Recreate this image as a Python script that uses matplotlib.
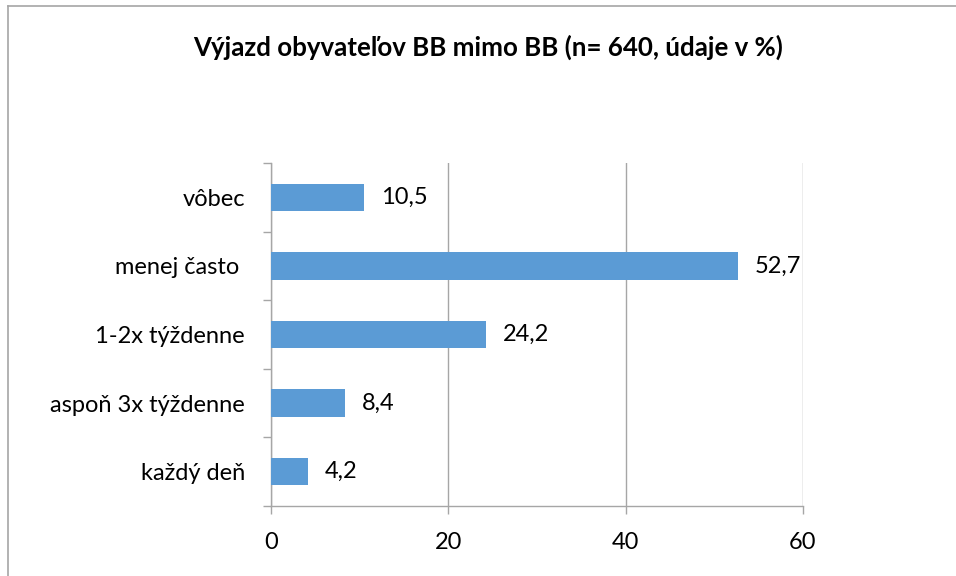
import matplotlib
matplotlib.use("Agg")
import matplotlib.pyplot as plt
from matplotlib.lines import Line2D

plt.rcParams['font.family'] = ['Lato', 'DejaVu Sans']

categories = ["každý deň", "aspoň 3x týždenne", "1-2x týždenne", "menej často ", "vôbec"]
values = [4.2, 8.4, 24.2, 52.7, 10.5]
value_labels = ["4,2", "8,4", "24,2", "52,7", "10,5"]
x_ticks = [0, 20, 40, 60]

title = "Výjazd obyvateľov BB mimo BB (n= 640, údaje v %)"

bar_color = "#5B9BD5"
grid_color = "#A6A6A6"

fig = plt.figure(figsize=(9.56, 5.76), dpi=100)
ax = fig.add_axes([271 / 956, 1 - 506 / 576, (803 - 271) / 956, (506 - 163) / 576])

y = list(range(len(categories)))
ax.barh(y, values, height=0.4, color=bar_color, zorder=3)

for yi, v, lab in zip(y, values, value_labels):
    ax.text(v + 1.9, yi, lab, va='center', ha='left', fontsize=17, color='black')

ax.set_xlim(0, 60)
ax.set_ylim(-0.5, len(categories) - 0.5)
ax.set_xticks(x_ticks)
ax.set_xticklabels([str(t) for t in x_ticks], fontsize=17)

# category labels centred, ticks at category boundaries
ax.set_yticks(y)
ax.set_yticklabels(categories, fontsize=17)
ax.tick_params(axis='y', length=0, pad=18.7)
ax.set_yticks([i - 0.5 for i in range(len(categories) + 1)], minor=True)
ax.tick_params(axis='y', which='minor', length=6, color=grid_color, width=1)
ax.tick_params(axis='x', length=6, color=grid_color, width=1, pad=13)

ax.grid(axis='x', color=grid_color, linewidth=1, zorder=0)
for s in ['top', 'right']:
    ax.spines[s].set_visible(False)
for s in ['left', 'bottom']:
    ax.spines[s].set_color(grid_color)
    ax.spines[s].set_linewidth(1)

fig.text(488 / 956, 1 - 47 / 576, title, ha='center', va='center', fontsize=18.6, fontweight='bold')

# chart area border (top and left edges visible)
fig.add_artist(Line2D([8 / 956, 8 / 956], [0, 1 - 6 / 576], transform=fig.transFigure, color='#A6A6A6', lw=1.2))
fig.add_artist(Line2D([8 / 956, 1], [1 - 6 / 576, 1 - 6 / 576], transform=fig.transFigure, color='#A6A6A6', lw=1.2))

fig.savefig("out.png", dpi=100)
